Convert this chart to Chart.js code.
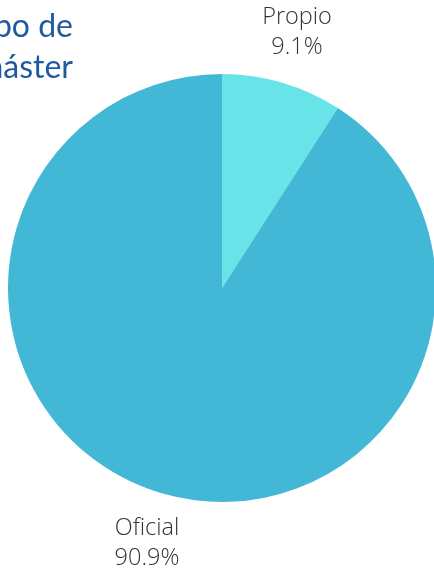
<!DOCTYPE html>
<html><head><meta charset="utf-8">
<script src="https://cdn.jsdelivr.net/npm/chart.js@4"></script>
<style>
html,body{margin:0;padding:0;overflow:hidden;background:#fff;}
#wrap{position:relative;width:440px;height:570px;}
</style></head>
<body>
<div id="wrap"><canvas id="c"></canvas></div>
<script>
const categories = ["Propio", "Oficial"];
const values = [9.1, 90.9];
const colors = ["#68e4e8", "#42b8d6"];
const titleLines = ["Tipo de", "máster"];

const labelPlugin = {
  id: 'outLabels',
  afterDatasetsDraw(chart) {
    const ctx = chart.ctx;
    const meta = chart.getDatasetMeta(0);
    ctx.save();
    ctx.fillStyle = '#333';
    ctx.font = '300 23.5px "Open Sans", sans-serif';
    ctx.textAlign = 'center';
    ctx.textBaseline = 'middle';
    meta.data.forEach((arc, i) => {
      const mid = (arc.startAngle + arc.endAngle) / 2;
      const d = arc.outerRadius + 52;
      const x = arc.x + Math.cos(mid) * d;
      const y = arc.y + Math.sin(mid) * d;
      ctx.fillText(categories[i], x, y - 15);
      ctx.fillText(values[i].toFixed(1) + '%', x, y + 15);
    });
    ctx.restore();
  }
};
const titlePlugin = {
  id: 'cutTitle',
  afterDraw(chart) {
    const ctx = chart.ctx;
    ctx.save();
    ctx.fillStyle = '#1f5a9e';
    ctx.font = '32px Lato, sans-serif';
    ctx.textAlign = 'right';
    ctx.textBaseline = 'alphabetic';
    ctx.fillText(titleLines[0], 73, 37);
    ctx.fillText(titleLines[1], 73, 78);
    ctx.restore();
  }
};

new Chart(document.getElementById('c'), {
  type: 'pie',
  data: {
    labels: categories,
    datasets: [{ data: values, backgroundColor: colors, borderWidth: 0 }]
  },
  options: {
    responsive: true,
    maintainAspectRatio: false,
    animation: false,
    layout: { padding: { left: 8, right: 4, top: 74, bottom: 68 } },
    plugins: { legend: { display: false }, tooltip: { enabled: false } }
  },
  plugins: [labelPlugin, titlePlugin]
});
</script>
</body></html>
